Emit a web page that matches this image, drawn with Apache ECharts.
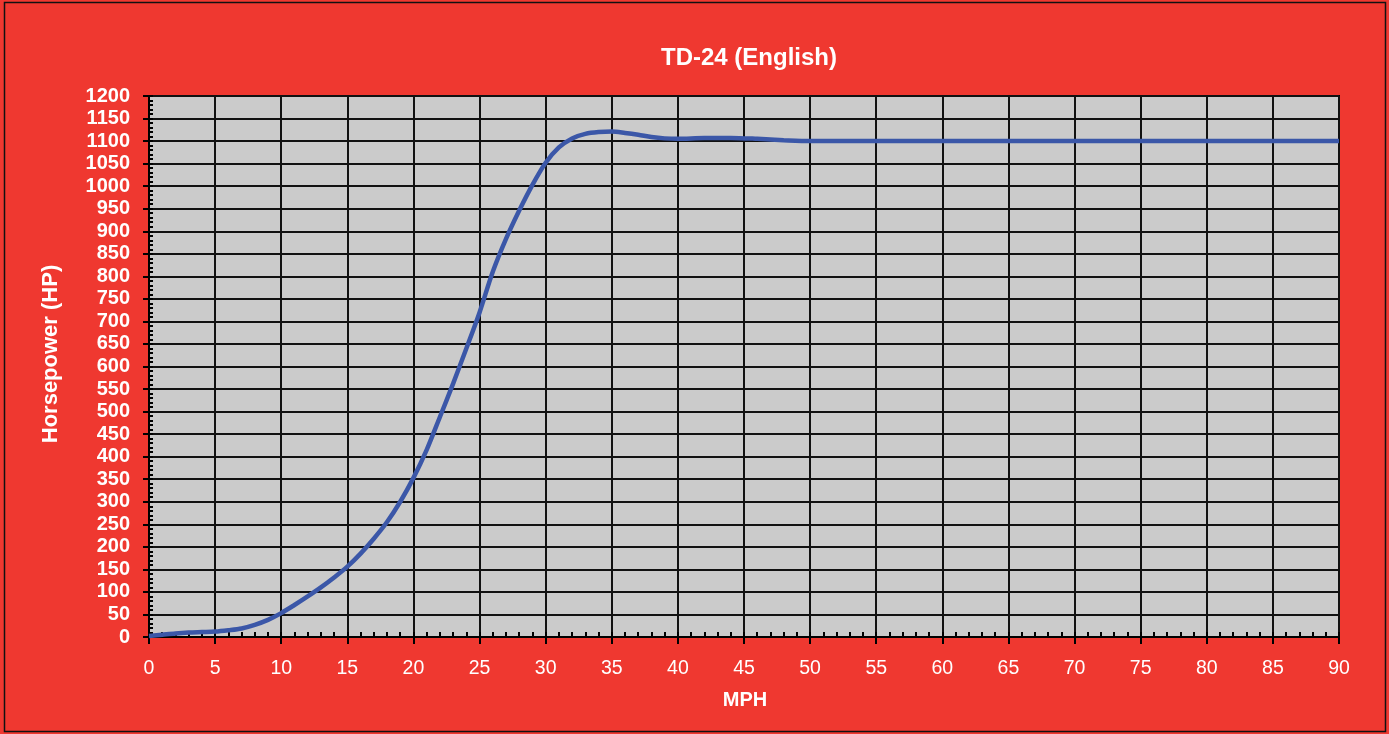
<!DOCTYPE html>
<html>
<head>
<meta charset="utf-8">
<script src="https://cdn.jsdelivr.net/npm/echarts@6/dist/echarts.min.js"></script>
<style>
html,body{margin:0;padding:0;background:#ef3830;}
#chart{width:1389px;height:734px;}
</style>
</head>
<body>
<div id="chart"></div>
<script>
const chartTitle = 'TD-24 (English)';
const xAxisName = 'MPH';
const yAxisName = 'Horsepower (HP)';
const mph = [0, 1, 2, 3, 4, 5, 6, 7, 8, 9, 10, 11, 12, 13, 14, 15, 16, 17, 18, 19, 20, 21, 22, 23, 24, 25, 26, 27, 28, 29, 30, 31, 32, 33, 34, 35, 36, 37, 38, 39, 40, 42, 44, 46, 48, 50, 55, 60, 70, 80, 90];
const hp  = [2, 5, 8, 10, 11, 12, 15, 19, 27, 38, 53, 71, 90, 110, 132, 156, 185, 218, 255, 300, 353, 415, 488, 562, 640, 720, 810, 883, 946, 1003, 1052, 1086, 1106, 1116, 1120, 1121, 1118, 1114, 1109, 1106, 1105, 1107, 1107, 1105, 1102, 1100, 1100, 1100, 1100, 1100, 1100];
const xTicks = {min: 0, max: 90, major: 5, minor: 1};
const yTicks = {min: 0, max: 1200, major: 50, minor: 10};

const FONT = '"Liberation Sans", Arial, sans-serif';
const chart = echarts.init(document.getElementById('chart'), null, {renderer: 'canvas'});
const grid = {left: 149, right: 50, top: 96, bottom: 97, show: true, backgroundColor: '#cbcbcb', borderColor: '#000', borderWidth: 2, containLabel: false};

const option = {
  backgroundColor: '#ef3830',
  animation: false,
  grid: grid,
  xAxis: [{
    type: 'value', min: xTicks.min, max: xTicks.max, interval: xTicks.major,
    axisLine: {show: true, lineStyle: {color: '#000', width: 2}},
    axisTick: {show: true, inside: false, length: 7, lineStyle: {color: '#000', width: 2}},
    axisLabel: {color: '#fff', fontSize: 19.5, fontFamily: FONT, margin: 22, formatter: v => String(v)},
    splitLine: {show: true, lineStyle: {color: '#111', width: 2}}
  }, {
    type: 'value', min: xTicks.min, max: xTicks.max, interval: xTicks.minor, position: 'bottom', offset: 0,
    axisLine: {show: false},
    axisTick: {show: true, inside: true, length: 5, lineStyle: {color: '#000', width: 2}},
    axisLabel: {show: false},
    splitLine: {show: false}
  }],
  yAxis: [{
    type: 'value', min: yTicks.min, max: yTicks.max, interval: yTicks.major,
    axisLine: {show: true, lineStyle: {color: '#000', width: 2}},
    axisTick: {show: true, inside: false, length: 6, lineStyle: {color: '#000', width: 2}},
    axisLabel: {color: '#fff', fontSize: 20, fontWeight: 'bold', fontFamily: FONT, margin: 19, formatter: v => String(v)},
    splitLine: {show: true, lineStyle: {color: '#111', width: 2}}
  }, {
    type: 'value', min: yTicks.min, max: yTicks.max, interval: yTicks.minor, position: 'left', offset: 0,
    axisLine: {show: false},
    axisTick: {show: true, inside: true, length: 4, lineStyle: {color: '#000', width: 2}},
    axisLabel: {show: false},
    splitLine: {show: false}
  }],
  series: [{
    type: 'line',
    data: mph.map((m, i) => [m, hp[i]]),
    smooth: 0.3,
    showSymbol: false,
    symbol: 'none',
    lineStyle: {color: '#3b57a8', width: 4.5},
    z: 5
  }],
  graphic: [
    {type: 'rect', shape: {x: 4.5, y: 2.5, width: 1381, height: 729}, style: {fill: 'none', stroke: '#111', lineWidth: 1.5}, silent: true},
    {type: 'text', x: 749, y: 58, style: {text: chartTitle, fill: '#fff', font: 'bold 24px ' + FONT, textAlign: 'center', textVerticalAlign: 'middle'}},
    {type: 'text', x: 745, y: 700, style: {text: xAxisName, fill: '#fff', font: 'bold 20px ' + FONT, textAlign: 'center', textVerticalAlign: 'middle'}},
    {type: 'text', x: 51, y: 354, rotation: Math.PI / 2, style: {text: yAxisName, fill: '#fff', font: 'bold 22px ' + FONT, textAlign: 'center', textVerticalAlign: 'middle'}}
  ]
};
chart.setOption(option);
</script>
</body>
</html>
